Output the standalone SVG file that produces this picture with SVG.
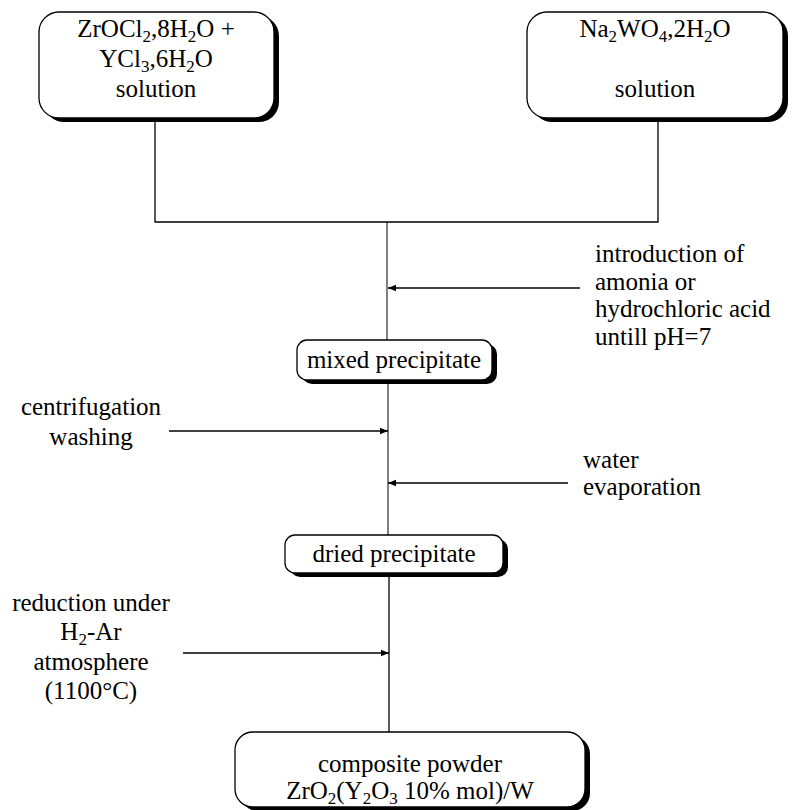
<svg xmlns="http://www.w3.org/2000/svg" width="795" height="810" viewBox="0 0 795 810">
<style>
text{font-family:"Liberation Serif","Times New Roman",serif;font-size:25px;fill:#000}
.c{text-anchor:middle}
.box{fill:#fff;stroke:#000;stroke-width:1.3}
.sh{fill:#000}
.ln{fill:none;stroke:#000;stroke-width:1.3}
.thin{fill:none;stroke:#000;stroke-width:1}
.ar{fill:none;stroke:#000;stroke-width:1.5;marker-end:url(#ah)}
.s{font-size:17px}
</style>
<defs>
<marker id="ah" viewBox="0 0 10 10" refX="10" refY="5" markerWidth="8" markerHeight="8" markerUnits="userSpaceOnUse" orient="auto">
<path d="M0,1 L10,5 L0,9 Z" fill="#000"/>
</marker>
</defs>
<g id="connectors">
<path class="ln" d="M155,118 V222 H658 V118"/>
<path class="thin" d="M387,222 V340"/>
<path class="thin" d="M388,380 V535"/>
<path class="ln" d="M389,573 V732"/>
<path class="ar" d="M580,288 H388"/>
<path class="ar" d="M169,431 H388"/>
<path class="ar" d="M568,483 H388"/>
<path class="ar" d="M183,653 H389"/>
</g>
<g id="n1">
<rect class="sh" x="44" y="16" width="235" height="106" rx="20"/>
<rect class="box" x="39" y="12" width="235" height="106" rx="20"/>
<text class="c" x="156" y="37">ZrOCl<tspan class="s" dy="5">2</tspan><tspan dy="-5">,8H</tspan><tspan class="s" dy="5">2</tspan><tspan dy="-5">O +</tspan></text>
<text class="c" x="156" y="67">YCl<tspan class="s" dy="5">3</tspan><tspan dy="-5">,6H</tspan><tspan class="s" dy="5">2</tspan><tspan dy="-5">O</tspan></text>
<text class="c" x="156" y="97">solution</text>
</g>
<g id="n2">
<rect class="sh" x="532" y="16" width="256" height="106" rx="20"/>
<rect class="box" x="527" y="12" width="256" height="106" rx="20"/>
<text class="c" x="655" y="37">Na<tspan class="s" dy="5">2</tspan><tspan dy="-5">WO</tspan><tspan class="s" dy="5">4</tspan><tspan dy="-5">,2H</tspan><tspan class="s" dy="5">2</tspan><tspan dy="-5">O</tspan></text>
<text class="c" x="655" y="97">solution</text>
</g>
<g id="l1">
<text x="595" y="262">introduction of</text>
<text x="595" y="290">amonia or</text>
<text x="595" y="317">hydrochloric acid</text>
<text x="595" y="345">untill pH=7</text>
</g>
<g id="n3">
<rect class="sh" x="302" y="344" width="195" height="40" rx="10"/>
<rect class="box" x="297" y="340" width="195" height="40" rx="10"/>
<text class="c" x="394" y="368">mixed precipitate</text>
</g>
<g id="l2">
<text class="c" x="91" y="415">centrifugation</text>
<text class="c" x="91" y="445">washing</text>
</g>
<g id="l3">
<text x="583" y="468">water</text>
<text x="583" y="495">evaporation</text>
</g>
<g id="n4">
<rect class="sh" x="290" y="539" width="218" height="38" rx="10"/>
<rect class="box" x="285" y="535" width="218" height="38" rx="10"/>
<text class="c" x="394" y="562">dried precipitate</text>
</g>
<g id="l4">
<text class="c" x="91" y="611">reduction under</text>
<text class="c" x="91" y="640">H<tspan class="s" dy="5">2</tspan><tspan dy="-5">-Ar</tspan></text>
<text class="c" x="91" y="670">atmosphere</text>
<text class="c" x="91" y="699">(1100°C)</text>
</g>
<g id="n5">
<rect class="sh" x="240" y="736" width="350" height="75" rx="18"/>
<rect class="box" x="235" y="732" width="350" height="75" rx="18"/>
<text class="c" x="410" y="772">composite powder</text>
<text class="c" x="410" y="799">ZrO<tspan class="s" dy="5">2</tspan><tspan dy="-5">(Y</tspan><tspan class="s" dy="5">2</tspan><tspan dy="-5">O</tspan><tspan class="s" dy="5">3</tspan><tspan dy="-5"> 10% mol)/W</tspan></text>
</g>
</svg>
